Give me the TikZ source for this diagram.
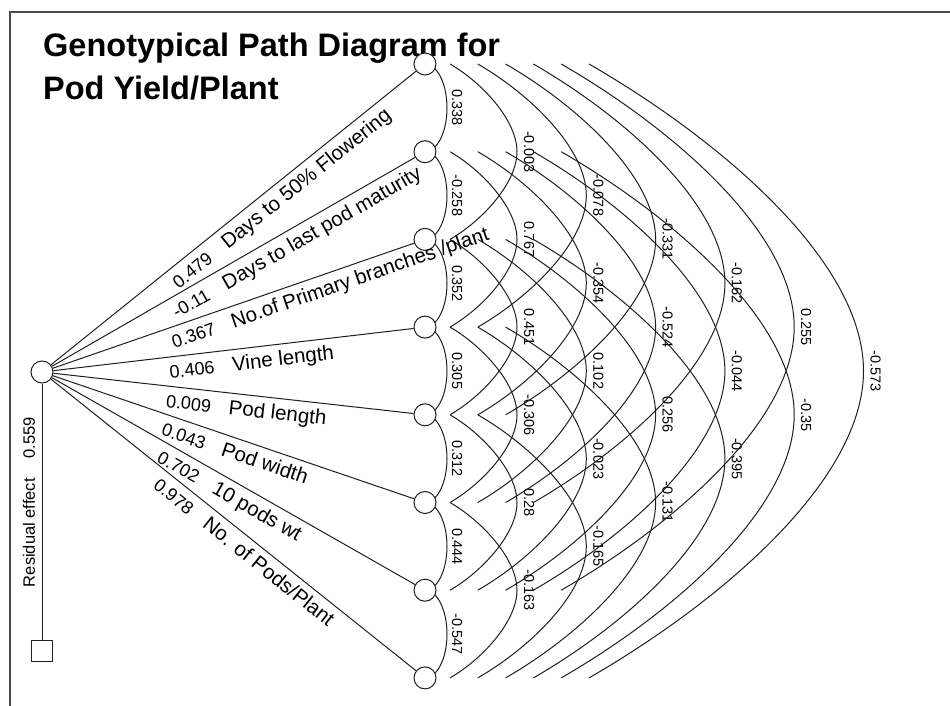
\documentclass[tikz,border=0pt]{standalone}
\usepackage{fontspec}
\setmainfont{Liberation Sans}
\pgfdeclarelayer{bg}
\pgfsetlayers{bg,main}
\begin{document}
\begin{tikzpicture}[x=1pt,y=-1pt,
  ln/.style={line width=1pt, draw=black!88},
  var/.style={circle, draw=black!88, line width=1pt, fill=white, minimum size=22pt, inner sep=0pt},
  coef/.style={font=\fontsize{14.5}{15}\selectfont, rotate=-90, inner sep=0pt},
  lab/.style={font=\fontsize{20.5}{21}\selectfont, sloped, anchor=north west, inner sep=6pt},
  ttl/.style={anchor=base west, inner sep=0pt, font=\fontsize{32.5}{34}\selectfont\bfseries}
]
\useasboundingbox (0,0) rectangle (950,706);
% frame
\draw[line width=1.6pt, black!70] (10,706) -- (10,12) -- (950,12);
% title
\node[ttl] (t1) at (43,57) {Genotypical Path Diagram for};
\node[ttl] (t2) at (43,100) {Pod Yield/Plant};
% nodes
\node[var] (L) at (42,372) {};
\foreach \k in {1,...,8}{
  \node[var] (n\k) at (425,{64+87.7*(\k-1)}) {};
}
\node[draw=black!88, line width=1pt, minimum size=21pt, inner sep=0pt] (R) at (42,651) {};
\draw[ln] (L) -- (R);
\node[rotate=90, font=\fontsize{16.5}{17}\selectfont, inner sep=0pt] (rl) at (29,502) {Residual effect\hspace{20pt}0.559};
% direct paths
\foreach \k/\c/\t in {1/0.479/{Days to 50\% Flowering},
                      2/-0.11/{Days to last pod maturity},
                      3/0.367/{No.of Primary branches /plant},
                      4/0.406/{Vine length},
                      5/0.009/{Pod length},
                      6/0.043/{Pod width},
                      7/0.702/{10 pods wt},
                      8/0.978/{No. of Pods/Plant}}{
  \draw[ln] (L) -- node[lab, pos=0.3] {{\fontsize{18}{18}\selectfont \c}\hspace{18pt}\t} (n\k);
}
% correlation arcs
\begin{pgfonlayer}{bg}
\foreach \i/\j/\v in {1/2/0.338, 2/3/-0.258, 3/4/0.352, 4/5/0.305, 5/6/0.312, 6/7/0.444, 7/8/-0.547,
  1/3/-0.003, 2/4/0.767, 3/5/0.451, 4/6/-0.306, 5/7/0.28, 6/8/-0.163,
  1/4/-0.078, 2/5/-0.354, 3/6/0.102, 4/7/-0.023, 5/8/-0.165,
  1/5/-0.331, 2/6/-0.524, 3/7/0.256, 4/8/-0.131,
  1/6/-0.162, 2/7/-0.044, 3/8/-0.395,
  1/7/0.255, 2/8/-0.35,
  1/8/-0.573}{
  \pgfmathtruncatemacro\d{\j-\i}
  \pgfmathsetmacro\yi{64+87.7*(\i-1)}
  \pgfmathsetmacro\yj{64+87.7*(\j-1)}
  \pgfmathsetmacro\ym{(\yi+\yj)/2}
  \pgfmathsetmacro\hh{(\yj-\yi)/2}
  \ifnum\d=1
    \draw[ln] (n\i.center) .. controls (437.15,\yi) and (447,{\ym-0.5523*\hh}) .. (447,\ym)
              .. controls (447,{\ym+0.5523*\hh}) and (437.15,\yj) .. (n\j.center);
    \node[coef] (c\i\j) at (457,\ym) {\v};
  \else
    \pgfmathsetmacro\xo{450+27.8*(\d-2)}
    \pgfmathsetmacro\xt{517+69.3*(\d-2)}
    \pgfmathsetmacro\w{\xt-\xo}
    \coordinate (s\i\j) at (\xo,\yi);
    \coordinate (e\i\j) at (\xo,\yj);
    \coordinate (m\i\j) at (\xt,\ym);
    \draw[ln] (s\i\j) .. controls ({\xo+0.473*\w},{\yi+0.273*\w}) and (\xt,{\ym-0.36*\hh}) .. (m\i\j)
              .. controls (\xt,{\ym+0.36*\hh}) and ({\xo+0.473*\w},{\yj-0.273*\w}) .. (e\i\j);
    \node[coef] (c\i\j) at ({\xt+12},\ym) {\v};
  \fi
}
\end{pgfonlayer}
\end{tikzpicture}
\end{document}
